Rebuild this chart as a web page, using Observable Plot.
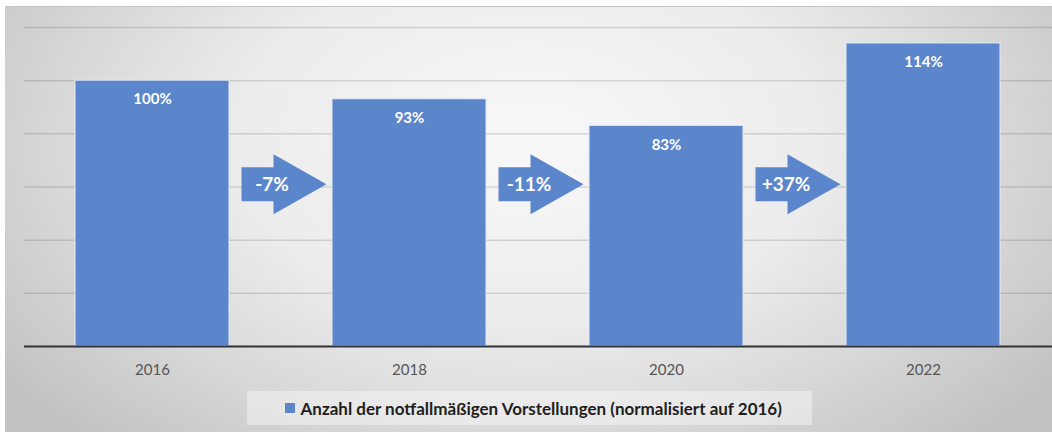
<!DOCTYPE html>
<html>
<head>
<meta charset="utf-8">
<script src="https://cdn.jsdelivr.net/npm/d3@7"></script>
<script src="https://cdn.jsdelivr.net/npm/@observablehq/plot@0.6"></script>
<style>
  html, body { margin: 0; padding: 0; background: #fff; width: 1052px; height: 432px; overflow: hidden; }
  #bg {
    position: absolute; left: 5px; top: 6px; width: 1047px; height: 426px;
    border-top: 1.5px solid #c4c4c4;
    background: radial-gradient(ellipse 62% 95% at 50% 32%, #f8f8f8 0%, #ececec 45%, #d6d6d6 75%, #c2c2c2 100%);
  }
  #chart { position: absolute; left: 0; top: 7px; }
  #legend {
    position: absolute; left: 247px; top: 391px; width: 565px; height: 34px;
    background: rgba(255,255,255,0.4);
    display: flex; align-items: center; justify-content: flex-start;
    font-family: Lato, "Open Sans", sans-serif; font-weight: bold; font-size: 17px; color: #1e1e1e;
  }
  #legend .sw { width: 9.5px; height: 9.5px; background: #5c86cb; margin-right: 6px; margin-left: 38px; }
</style>
</head>
<body>
<div id="bg"></div>
<div id="chart"></div>
<div id="legend"></div>
<script>
const years = ["2016", "2018", "2020", "2022"];
const values = [100, 93, 83, 114];
const valueLabels = ["100%", "93%", "83%", "114%"];
const arrowFrom = ["2016", "2018", "2020"];
const arrowLabels = ["-7%", "-11%", "+37%"];
const yTicks = [20, 40, 60, 80, 100, 120];
const legendLabel = "Anzahl der notfallmäßigen Vorstellungen (normalisiert auf 2016)";

const barColor = "#5c86cb";
const data = years.map((year, i) => ({year, value: values[i], label: valueLabels[i]}));
const arrows = arrowFrom.map((from, i) => ({from, label: arrowLabels[i]}));
const arrowLevel = 61;

const arrowSymbol = {
  draw(ctx) {
    ctx.moveTo(-42.5, -17);
    ctx.lineTo(-10.5, -17);
    ctx.lineTo(-10.5, -30);
    ctx.lineTo(42.5, 0);
    ctx.lineTo(-10.5, 30);
    ctx.lineTo(-10.5, 17);
    ctx.lineTo(-42.5, 17);
    ctx.closePath();
  }
};

const chart = Plot.plot({
  width: 1052,
  height: 390,
  marginLeft: 24,
  marginRight: 0,
  marginTop: 20,
  marginBottom: 51,
  style: {background: "transparent", fontFamily: "Lato, 'Open Sans', sans-serif", overflow: "visible"},
  x: {domain: years, paddingInner: 0.4, paddingOuter: 0.2, label: null},
  y: {domain: [0, 120], axis: null},
  marks: [
    Plot.ruleY(yTicks, {stroke: "#000", strokeOpacity: 0.13, strokeWidth: 1.5}),
    Plot.barY(data, {x: "year", y: "value", fill: barColor, stroke: "#e4ebf7", strokeWidth: 1}),
    Plot.text(data, {x: "year", y: "value", text: "label", dy: 19, fill: "white", fontWeight: "bold", fontSize: 15, lineAnchor: "middle"}),
    Plot.dot(arrows, {x: "from", y: () => arrowLevel, symbol: arrowSymbol, fill: barColor, stroke: "none", dx: 131.5}),
    Plot.text(arrows, {x: "from", y: () => arrowLevel, text: "label", dx: 119.5, dy: 1, fill: "white", fontWeight: "bold", fontSize: 19, lineAnchor: "middle"}),
    Plot.ruleY([0], {stroke: "#333", strokeWidth: 2.2}),
    Plot.axisX({tickSize: 0, tickPadding: 18, fontSize: 15, color: "#555", label: null})
  ]
});
document.getElementById("chart").appendChild(chart);

const legend = document.getElementById("legend");
const sw = document.createElement("span");
sw.className = "sw";
const txt = document.createElement("span");
txt.textContent = legendLabel;
legend.appendChild(sw);
legend.appendChild(txt);
</script>
</body>
</html>
